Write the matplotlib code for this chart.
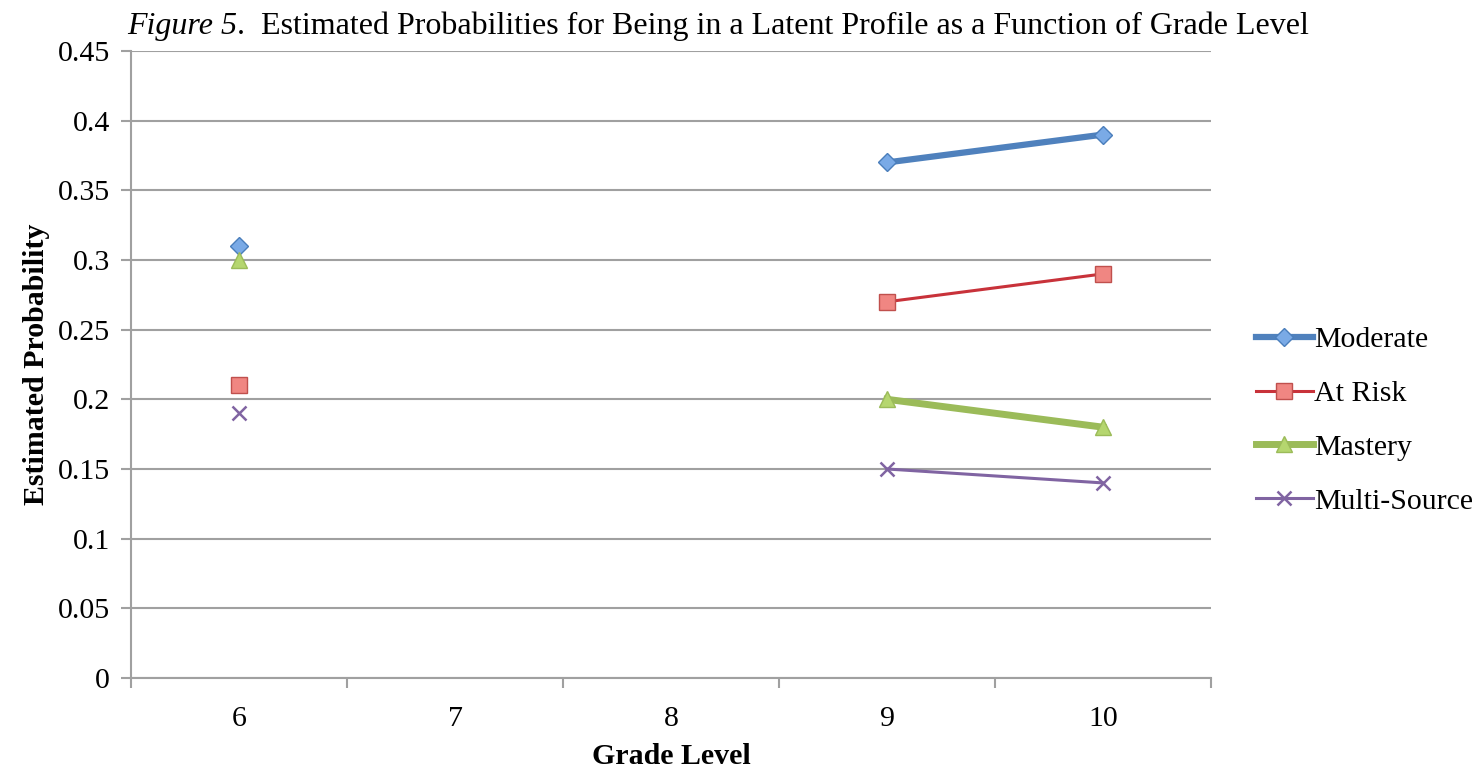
import numpy as np
import matplotlib.pyplot as plt

grades = ["6", "7", "8", "9", "10"]
moderate = [0.31, np.nan, np.nan, 0.37, 0.39]
at_risk = [0.21, np.nan, np.nan, 0.27, 0.29]
mastery = [0.30, np.nan, np.nan, 0.20, 0.18]
multi_source = [0.19, np.nan, np.nan, 0.15, 0.14]
y_ticks = [0, 0.05, 0.1, 0.15, 0.2, 0.25, 0.3, 0.35, 0.4, 0.45]
y_labels = ["0", "0.05", "0.1", "0.15", "0.2", "0.25", "0.3", "0.35", "0.4", "0.45"]

plt.rcParams['font.family'] = ['Liberation Serif', 'DejaVu Serif']
FS = 21.5

fig = plt.figure(figsize=(14.79, 7.76), dpi=100)
ax = fig.add_axes([0.0886, 0.1263, 0.8188 - 0.0886, 0.9343 - 0.1263])

x = np.arange(len(grades))
ax.plot(x, moderate, color='#4F81BD', lw=4.5, marker='D', ms=9,
        mfc='#7AAAE6', mec='#4A7EBB', mew=1, label='Moderate', zorder=3)
ax.plot(x, at_risk, color='#C8323A', lw=2.2, marker='s', ms=11,
        mfc='#F08682', mec='#C0504D', mew=1, label='At Risk', zorder=3)
ax.plot(x, mastery, color='#9BBB59', lw=5, marker='^', ms=11,
        mfc='#B5D66F', mec='#9BBB59', mew=1, label='Mastery', zorder=3)
ax.plot(x, multi_source, color='#8064A2', lw=2.2, marker='x', ms=10,
        mec='#8064A2', mew=1.8, label='Multi-Source', zorder=3)

ax.set_xlim(-0.5, len(grades) - 0.5)
ax.set_ylim(0, 0.45)
ax.set_yticks(y_ticks)
ax.set_yticklabels(y_labels, fontsize=FS)
ax.set_xticks(x)
ax.set_xticklabels(grades, fontsize=FS)
ax.set_xticks(np.arange(len(grades) + 1) - 0.5, minor=True)
ax.tick_params(axis='x', which='major', length=0, pad=20)
ax.tick_params(axis='x', which='minor', length=7, width=1.5, color='#A0A0A0', direction='out')
ax.tick_params(axis='y', length=7, width=1.5, color='#A0A0A0', direction='out', pad=8)
ax.grid(axis='y', color='#A0A0A0', lw=1.5)
ax.set_axisbelow(True)
for s in ['top', 'right']:
    ax.spines[s].set_visible(False)
for s in ['left', 'bottom']:
    ax.spines[s].set_color('#A0A0A0')
    ax.spines[s].set_linewidth(1.5)

ax.set_xlabel("Grade Level", fontsize=FS, fontweight='bold', labelpad=8)
ax.set_ylabel("Estimated Probability", fontsize=FS, fontweight='bold', labelpad=6)

fig.legend(loc='center left', bbox_to_anchor=(1256 / 1479, 0.458), frameon=False,
           fontsize=FS, handlelength=1.9, handletextpad=0.05, labelspacing=0.9,
           borderpad=0, borderaxespad=0)

t1 = fig.text(127 / 1479, 0.966, "Figure 5", fontsize=23, style='italic', va='center')
ax.annotate(".  Estimated Probabilities for Being in a Latent Profile as a Function of Grade Level",
            xy=(1, 0), xycoords=t1, va='bottom', fontsize=23)

fig.savefig("out.png", dpi=100)
